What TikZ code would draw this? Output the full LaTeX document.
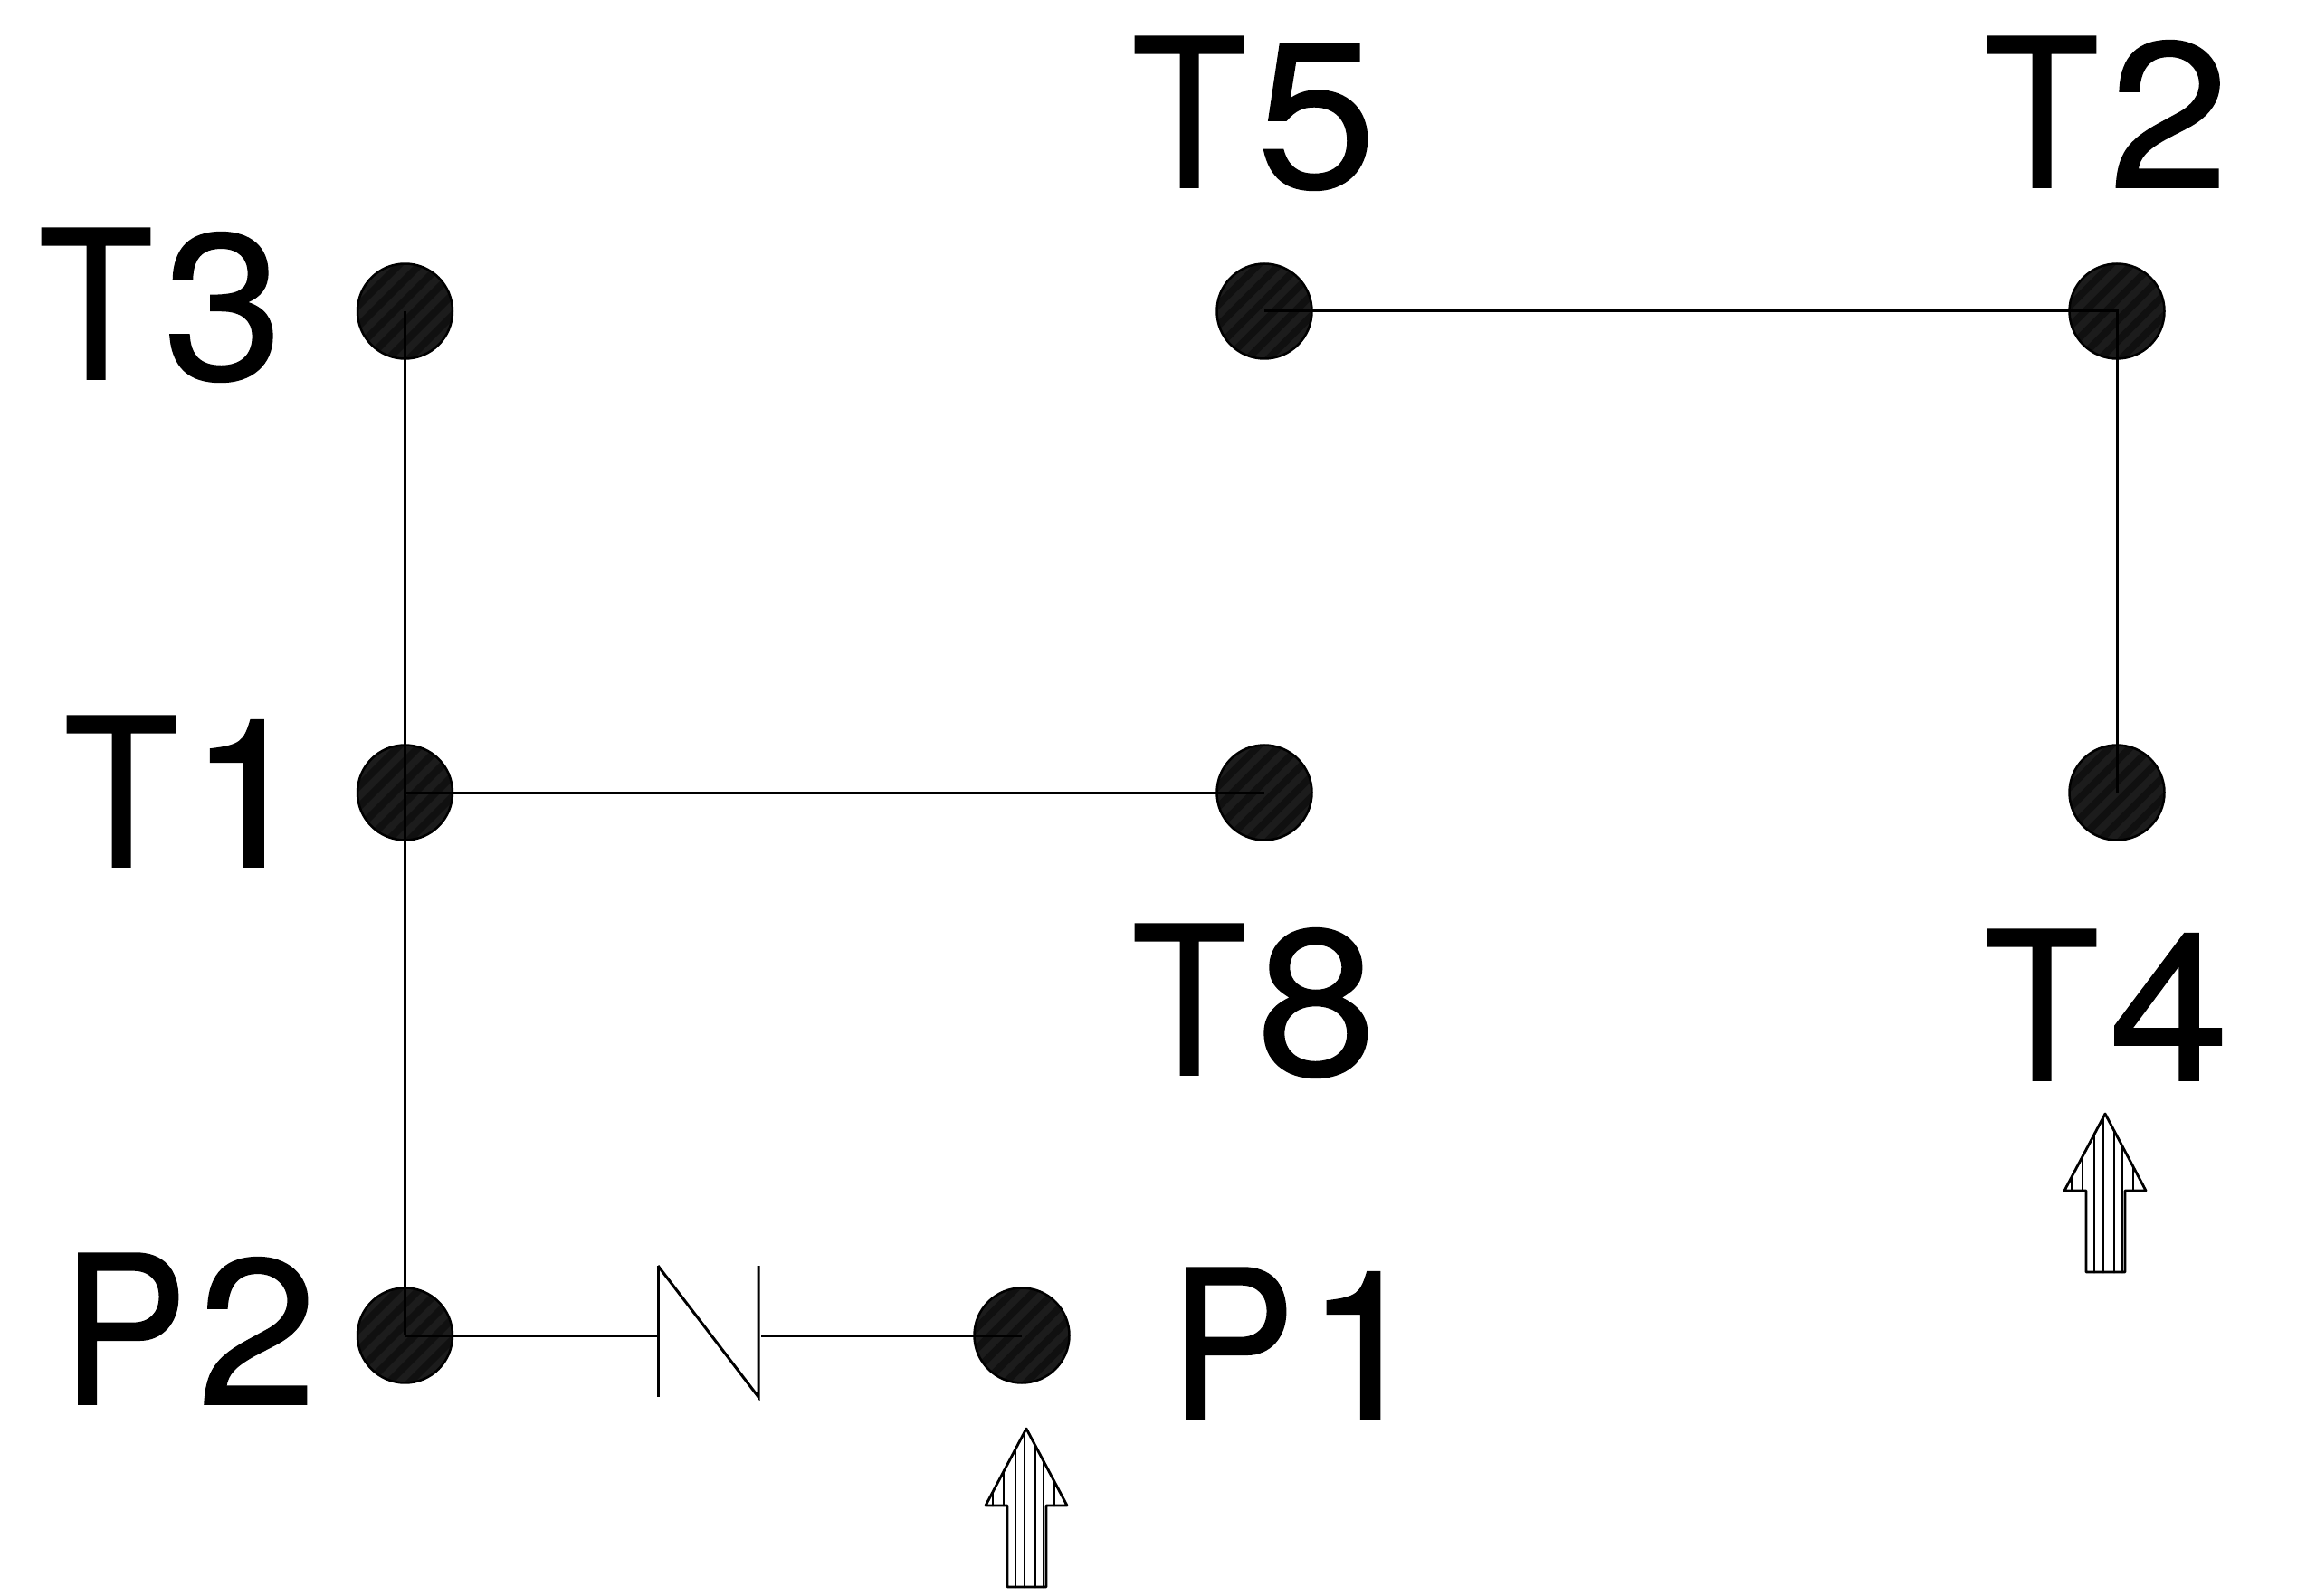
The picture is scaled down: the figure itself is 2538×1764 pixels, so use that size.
\documentclass[tikz,border=0pt]{standalone}
\usepackage{fontspec}
\setmainfont[FakeBold=0.7,FakeStretch=1.04]{TeX Gyre Heros}
\newfontface\letterface[FakeBold=0.7,FakeStretch=0.91]{TeX Gyre Heros}
\definecolor{dotfill}{HTML}{1C1C1C}
\definecolor{dotstripe}{HTML}{101010}
\newcommand{\lbl}[2]{{\letterface #1}\kern 5.5pt #2}
\tikzset{
  wire/.style={line width=1.5pt,black},
  thin wire/.style={line width=1.4pt,black,line cap=round,line join=round},
  terminal/.style={circle,draw=black,line width=1.25pt,fill=dotfill,minimum size=52.5pt,inner sep=0pt,
    path picture={
      \foreach \k in {-10,...,10}{
        \draw[dotstripe,line width=4pt]
          ([xshift=\k*11.5pt,yshift=-40pt]path picture bounding box.center) -- ++(80pt,80pt);
      }
    }},
  label/.style={anchor=base west,inner sep=0pt,outer sep=0pt,font=\fontsize{114.5}{120}\selectfont},
  hatcharrow/.pic={
    \draw[thin wire] (0,0) -- (45,85) -- (22,85) -- (22,175) -- (-21,175) -- (-21,85) -- (-45,85) -- cycle;
    \foreach \hx/\ht/\hb in {-37/70/85,-25/47/85,-12/23/175,-2/4/175,10/19/175,19/36/175,31/59/85}{
      \draw[thin wire] (\hx,\ht) -- (\hx,\hb);
    }
  }
}
\begin{document}
\begin{tikzpicture}[x=0.5pt,y=-0.5pt]
\useasboundingbox (0,0) rectangle (2538,1764);
% terminals
\node[terminal] (t3) at (447.5,344) {};
\node[terminal] (t5) at (1397,344) {};
\node[terminal] (t2) at (2339,344) {};
\node[terminal] (t1) at (447.5,876) {};
\node[terminal] (t8) at (1397,876) {};
\node[terminal] (t4) at (2339,876) {};
\node[terminal] (p2) at (447.5,1476) {};
\node[terminal] (p1) at (1129,1476) {};
% labels
\node[label] (lt3) at (42,419) {\lbl{T}{3}};
\node[label] (lt5) at (1250,207) {\lbl{T}{5}};
\node[label] (lt2) at (2192,207) {\lbl{T}{2}};
\node[label] (lt1) at (70,958) {\lbl{T}{1}};
\node[label] (lt8) at (1250,1188) {\lbl{T}{8}};
\node[label] (lt4) at (2192,1194) {\lbl{T}{4}};
\node[label] (lp2) at (68,1552) {\lbl{P}{2}};
\node[label] (lp1) at (1292,1568) {\lbl{P}{1}};
% diode
\coordinate (da) at (727,1399);
\coordinate (db) at (727,1544);
\coordinate (dc) at (838,1399);
\coordinate (dd) at (838,1544);
\coordinate (dl) at (727,1476);
\coordinate (dr) at (841,1476);
\draw[wire] (da) -- (db);
\draw[wire] (da) -- (dd) -- (dc);
% connectors
\draw[wire] (t3.center) -- (p2.center);
\draw[wire] (t1.center) -- (t8.center);
\draw[wire] (t5.center) -- (t2.center) -- (t4.center);
\draw[wire] (p2.center) -- (dl);
\draw[wire] (dr) -- (p1.center);
% arrows
\pic at (1134,1579) {hatcharrow};
\pic at (2326,1231) {hatcharrow};
\end{tikzpicture}
\end{document}
